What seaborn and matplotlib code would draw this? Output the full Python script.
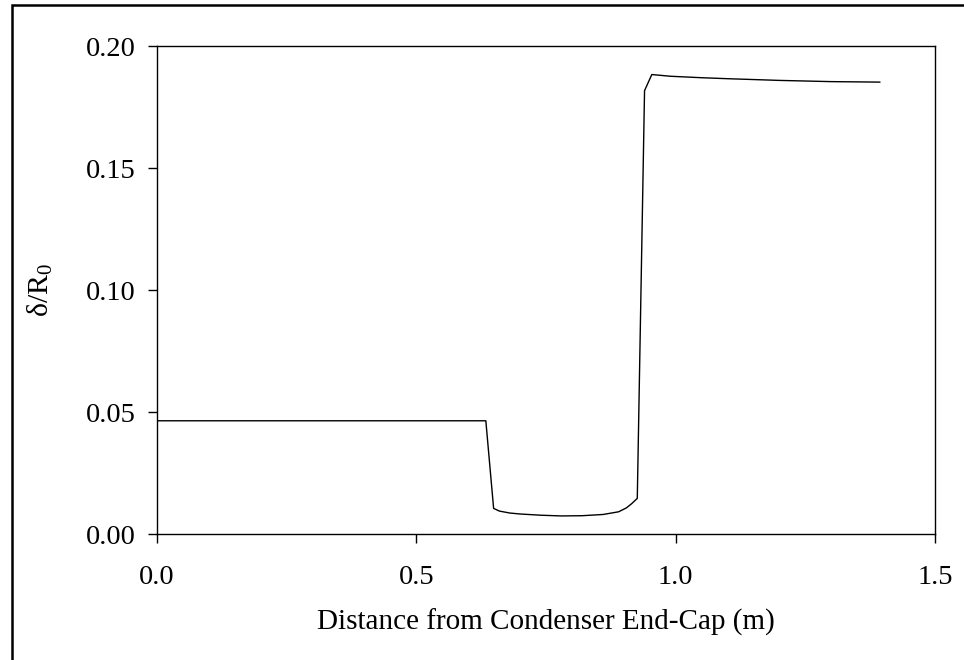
import matplotlib
matplotlib.use("Agg")
import matplotlib.pyplot as plt
from matplotlib.patches import Rectangle
import seaborn as sns
import pandas as pd

# Film thickness profile along the heat pipe
distance_m = [0.000, 0.100, 0.200, 0.300, 0.400, 0.500, 0.600, 0.634,
              0.649, 0.660, 0.680, 0.700, 0.740, 0.780, 0.820, 0.860,
              0.890, 0.905, 0.915, 0.926, 0.940, 0.954, 0.990, 1.050,
              1.100, 1.200, 1.300, 1.394]
delta_ratio = [0.0464, 0.0464, 0.0464, 0.0464, 0.0464, 0.0464, 0.0464, 0.0464,
               0.0105, 0.0094, 0.0086, 0.0082, 0.0077, 0.0074, 0.0075, 0.0080,
               0.0091, 0.0107, 0.0124, 0.0146, 0.1817, 0.1883, 0.1876, 0.1870,
               0.1866, 0.1859, 0.1854, 0.1852]

x_ticks = [0.0, 0.5, 1.0, 1.5]
x_tick_labels = ["0.0", "0.5", "1.0", "1.5"]
y_ticks = [0.00, 0.05, 0.10, 0.15, 0.20]
y_tick_labels = ["0.00", "0.05", "0.10", "0.15", "0.20"]

df = pd.DataFrame({"distance": distance_m, "delta": delta_ratio})

sns.set_theme(style="white")
plt.rcParams["font.family"] = ["Liberation Serif", "DejaVu Serif"]
plt.rcParams["mathtext.fontset"] = "custom"
plt.rcParams["mathtext.rm"] = "Liberation Serif"
plt.rcParams["mathtext.it"] = "Liberation Serif"

W, H = 964, 660
fig = plt.figure(figsize=(W / 100, H / 100), dpi=100)
fig.patch.set_facecolor("white")
ax = fig.add_axes([157 / W, 1 - 534 / H, (935 - 157) / W, (534 - 46) / H])

sns.lineplot(data=df, x="distance", y="delta", ax=ax, color="black",
             linewidth=1.0, estimator=None, sort=False)

ax.set_xlim(0, 1.5)
ax.set_ylim(0, 0.20)
ax.set_xticks(x_ticks)
ax.set_xticklabels(x_tick_labels)
ax.set_yticks(y_ticks)
ax.set_yticklabels(y_tick_labels)

ax.tick_params(axis="both", direction="out", length=6.5, width=1.0,
               color="black", labelsize=20.5, labelcolor="black",
               bottom=True, left=True, top=False, right=False)
ax.tick_params(axis="y", pad=9)
ax.tick_params(axis="x", pad=16)

for side in ["left", "bottom", "top", "right"]:
    ax.spines[side].set_visible(True)
    ax.spines[side].set_color("black")
    ax.spines[side].set_linewidth(1.0)

ax.set_xlabel("Distance from Condenser End-Cap (m)", fontsize=21,
              color="black", labelpad=13)
ax.set_ylabel(r"δ/R$_0$", fontsize=21.5, color="black", labelpad=22)
ax.grid(False)

# Outer chart frame
fig.patches.append(Rectangle((12 / W, -0.05), 1.2, 1 - 5 / H + 0.05,
                             transform=fig.transFigure, fill=False,
                             edgecolor="black", linewidth=1.8))

fig.savefig("out.png", dpi=100, facecolor="white")
